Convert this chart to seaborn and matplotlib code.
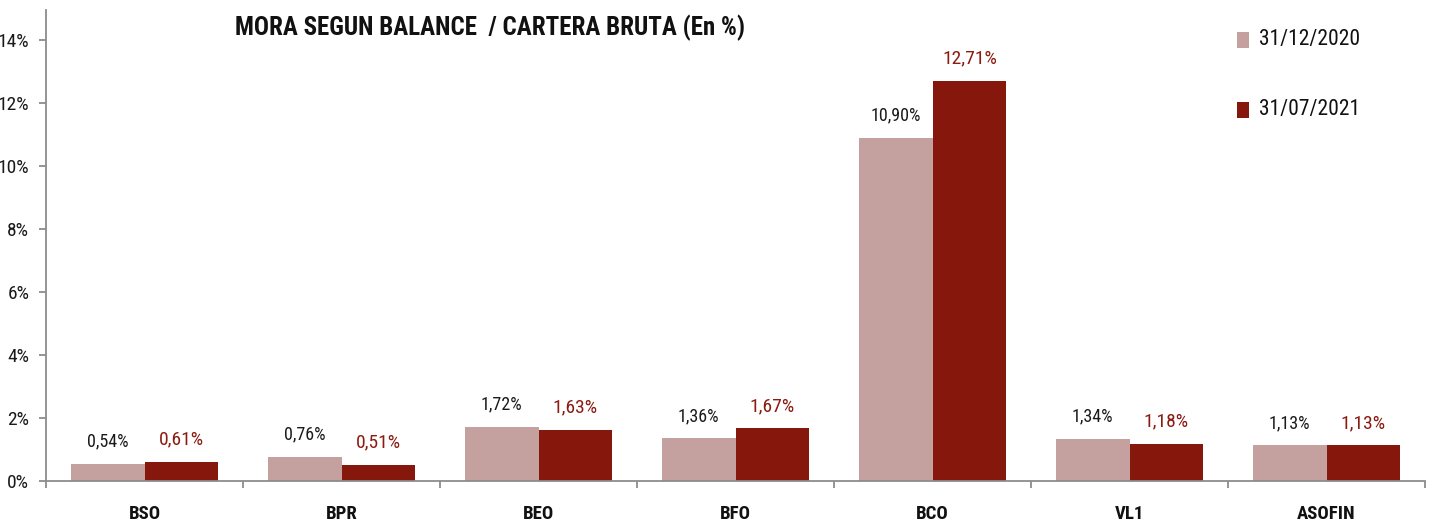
import matplotlib
matplotlib.use("Agg")
import matplotlib.pyplot as plt
import seaborn as sns
import pandas as pd
import numpy as np
from matplotlib.ticker import FixedLocator, FuncFormatter
from matplotlib import font_manager

categories = ["BSO", "BPR", "BEO", "BFO", "BCO", "VL1", "ASOFIN"]
series_names = ["31/12/2020", "31/07/2021"]
values_2020 = [0.54, 0.76, 1.72, 1.36, 10.90, 1.34, 1.13]
values_2021 = [0.61, 0.51, 1.63, 1.67, 12.71, 1.18, 1.13]
y_ticks = [0, 2, 4, 6, 8, 10, 12, 14]
title = "MORA SEGUN BALANCE  / CARTERA BRUTA (En %)"

colors = ["#C4A09F", "#85170D"]
label_colors = ["#1a1a1a", "#8B1A10"]

sns.set_theme(style="white")
fl = font_manager.fontManager.ttflist
def has_bold(name):
    return any(f.name == name and (f.weight in ("bold", 700) or str(f.weight) in ("700", "bold"))
               and f.style == "normal" for f in fl)
names = {f.name for f in fl}
fam = "Liberation Sans"
for cand in ["Liberation Sans Narrow", "Roboto Condensed", "PT Sans Narrow",
             "Archivo Narrow", "Fira Sans Condensed", "Asap Condensed"]:
    if cand in names and has_bold(cand):
        fam = cand
        break
plt.rcParams["font.family"] = [fam, "DejaVu Sans"]

df = pd.DataFrame({
    "cat": categories * 2,
    "serie": [series_names[0]] * len(categories) + [series_names[1]] * len(categories),
    "val": values_2020 + values_2021,
})

fig = plt.figure(figsize=(14.35, 5.21), dpi=100)
ax = fig.add_axes([46 / 1435, 1 - 481 / 521, (1425 - 46) / 1435, (481 - 10) / 521])

sns.barplot(data=df, x="cat", y="val", hue="serie", order=categories,
            hue_order=series_names, palette=colors, width=0.75, saturation=1,
            ax=ax, legend=False, errorbar=None, edgecolor="none", linewidth=0)

ax.set_xlim(-0.5, len(categories) - 0.5)
ax.set_ylim(0, 14.95)
ax.set_yticks(y_ticks)
ax.yaxis.set_major_formatter(FuncFormatter(lambda v, p: f"{v:.0f}%"))
ax.set_xlabel("")
ax.set_ylabel("")

for s in ["top", "right"]:
    ax.spines[s].set_visible(False)
for s in ["left", "bottom"]:
    ax.spines[s].set_color("#8c8c8c")
    ax.spines[s].set_linewidth(1.3)

ax.tick_params(axis="y", which="major", left=True, length=5, width=1.3,
               color="#8c8c8c", labelsize=14, pad=7, labelcolor="#1a1a1a")
ax.tick_params(axis="x", which="major", bottom=False, length=0, labelsize=13.5, pad=17)
ax.xaxis.set_minor_locator(FixedLocator(np.arange(-0.5, len(categories), 1.0)))
ax.tick_params(axis="x", which="minor", bottom=True, length=5, width=1.3, color="#8c8c8c")
for lab in ax.get_xticklabels():
    lab.set_fontweight("bold")
    lab.set_color("#111111")

# value labels
for i, cont in enumerate(ax.containers):
    vals = values_2020 if i == 0 else values_2021
    for bar, v in zip(cont, vals):
        ax.annotate(f"{v:.2f}%".replace(".", ","),
                    (bar.get_x() + bar.get_width() / 2, bar.get_height()),
                    xytext=(0, 16), textcoords="offset points",
                    ha="center", va="center",
                    fontsize=13 if i == 0 else 14, color=label_colors[i])

fig.text(490 / 1435, 1 - 28 / 521, title, ha="center", va="center",
         fontsize=18, fontweight="bold", color="#111111")

# legend
for k, (name, c) in enumerate(zip(series_names, colors)):
    yy = 1 - (40 + 70 * k) / 521
    fig.patches.append(plt.Rectangle((1243 / 1435 - 6 / 1435, yy - 8 / 521), 12 / 1435, 16 / 521,
                                     transform=fig.transFigure, facecolor=c, edgecolor="none"))
    fig.text(1259 / 1435, yy, name, ha="left", va="center", fontsize=15.5, color="#111111")

fig.savefig("out.png", dpi=100)
